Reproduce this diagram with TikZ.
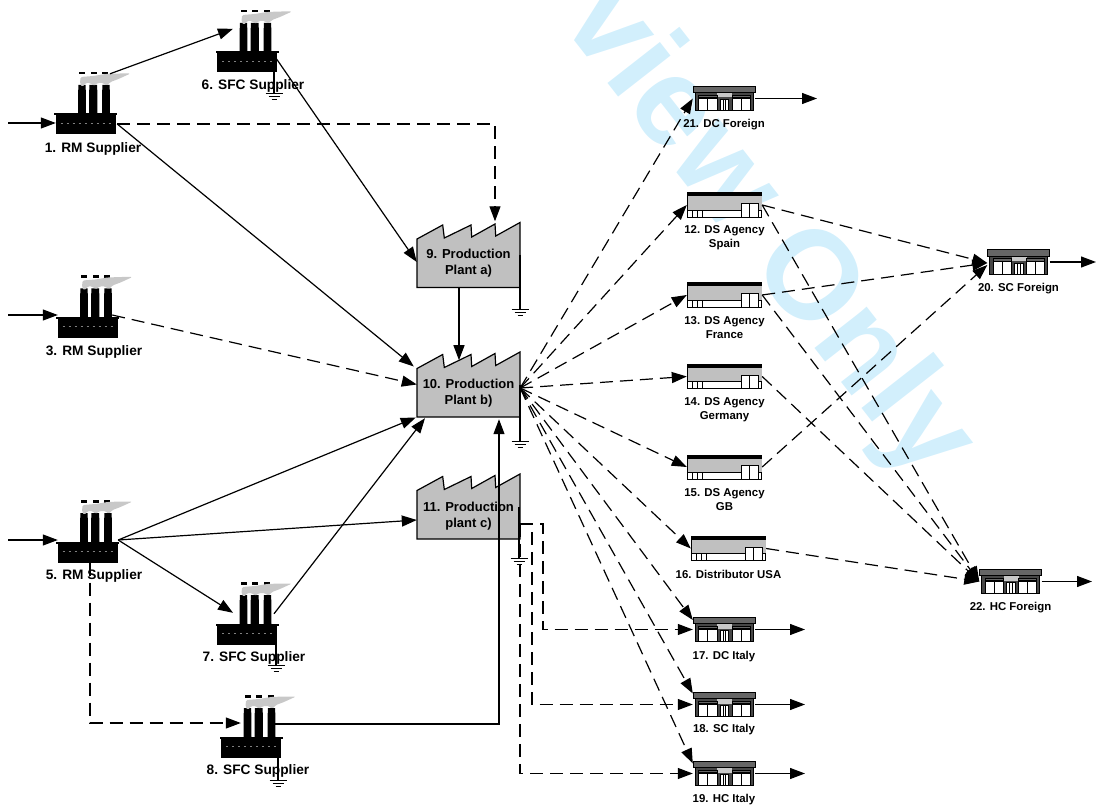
\documentclass[tikz,border=0pt]{standalone}
\usepackage{fontspec}
\setmainfont{Liberation Sans}
\usetikzlibrary{arrows.meta}
\definecolor{smoke}{HTML}{C8C8C8}
\definecolor{plantgray}{HTML}{C0C0C0}
\definecolor{roofgray}{HTML}{666666}
\definecolor{markblue}{HTML}{D2EFFC}
\tikzset{
  >={Stealth[length=15pt,width=11pt,inset=0pt]},
  wire/.style={line width=1.2pt},
  flow/.style={wire,->},
  dflow/.style={flow,dash pattern=on 13pt off 7pt},
  factorybox/.style={minimum width=63pt,minimum height=21pt,inner sep=0pt},
  plantbox/.style={minimum width=103pt,minimum height=65pt,inner sep=0pt},
  shopbox/.style={minimum width=62pt,minimum height=25pt,inner sep=0pt},
  agencybox/.style={minimum width=75pt,minimum height=25pt,inner sep=0pt},
  biglab/.style={font=\fontsize{13.7}{15}\selectfont\bfseries,inner sep=0pt,yshift=-1.5pt},
  midlab/.style={font=\fontsize{13}{16}\selectfont\bfseries,inner sep=0pt,align=center,yshift=-1.5pt},
  smalllab/.style={font=\fontsize{11.4}{14}\selectfont\bfseries,inner sep=0pt,align=center,yshift=-1.5pt},
  factorypic/.pic={
    \foreach \a/\b in {-7.5/0.5,3.5/12,16.5/24.5}
      \fill (\a+0.3,-39) -- (\b-0.3,-39) -- (\b,-10) -- (\a,-10) -- cycle;
    \foreach \a in {-3.5,8,19.5} \fill (\a-3,-52) rectangle (\a+3,-49.5);
    \fill[smoke,rounded corners=1.5pt] (-5.5,-40) -- (-5,-47) -- (8,-48) -- (20,-50) -- (33,-50.5) -- (45,-50.5)
      -- (33,-45) -- (25,-42) -- (21,-38) -- (18,-41) -- (12,-41) -- (8,-38) -- (5,-41) -- (0,-41) -- (-3,-37) -- cycle;
    \fill (-31.5,-10.5) rectangle (31.5,-8.5);
    \fill (-30,-8.5) rectangle (30,10.5);
    \draw[gray,line width=.3pt,dash pattern=on 2pt off 4pt] (-25,-1) -- (27,-1);
  },
  plantpic/.pic={
    \draw[wire,fill=plantgray] (-51.5,32.5) -- (-51.5,-16) -- (-25.8,-30) -- (-24.2,-17) -- (2.5,-30) -- (3.2,-18)
      -- (26.5,-31) -- (27.2,-19) -- (51.5,-32.5) -- (51.5,32.5) -- cycle;
  },
  shoppic/.pic={
    \draw[line width=1pt,fill=roofgray!70!black] (-29,-6) rectangle (29,12.3);
    \fill[smoke] (-7,-6) rectangle (8,-1);
    \foreach \a/\b in {-25.5/-7,8/26} {
      \draw[line width=.8pt,fill=white] (\a,-.5) rectangle (\b,12);
      \draw[line width=.8pt] ({(\a+\b)/2},-.5) -- ({(\a+\b)/2},12);
      \draw[line width=.8pt,fill=roofgray] (\a,-3.5) rectangle (\b,-.8);
    }
    \draw[line width=.8pt,fill=white] (-4,1) rectangle (4.5,12);
    \draw[line width=.6pt] (-1.2,1) -- (-1.2,12) (1.6,1) -- (1.6,12);
    \draw[line width=.9pt,fill=roofgray] (-31,-12.5) rectangle (31,-6);
  },
  agencypic/.pic={
    \draw[line width=1pt,fill=white] (-37,-12) rectangle (37,12.2);
    \fill[plantgray] (-37,-8.5) rectangle (37,5.2);
    \draw[line width=.9pt] (-37,5.2) -- (37,5.2);
    \fill (-37.5,-12.5) rectangle (37.5,-8.5);
    \draw[line width=.8pt,fill=white] (17,-1.5) rectangle (33.5,12.2);
    \draw[line width=.8pt] (25,-1.5) -- (25,12.2);
    \draw[line width=.8pt] (-32,5.2) -- (-32,12.2) (-27,5.2) -- (-27,12.2) (-22,5.2) -- (-22,12.2);
  },
  earthpic/.pic={
    \draw[line width=1pt] (-8.5,0) -- (8.5,0) (-5.5,3) -- (5.5,3) (-2.5,6) -- (2.5,6);
  }
}
\begin{document}
\begin{tikzpicture}[x=1pt,y=-1pt]
  \useasboundingbox (0,0) rectangle (1096,805);
  \node[anchor=base west,rotate=-52,text=markblue,inner sep=0pt,font=\fontsize{126}{126}\selectfont\bfseries] (mark) at (559,21) {view Only};

  % suppliers
  \foreach \n/\x/\y/\lx/\ly/\txt in {1/85.5/124/93/147/1. RM Supplier,3/87.5/327.5/94/350/3. RM Supplier,5/87.5/552/94/574/5. RM Supplier,
      6/247/62/253/84/6. SFC Supplier,7/247/634/254/656/7. SFC Supplier,8/251/747/258/769/8. SFC Supplier} {
    \node[factorybox] (f\n) at (\x,\y) {};
    \pic at (f\n) {factorypic};
    \node[biglab] (lf\n) at (\lx,\ly) {\txt};
  }
  % plants
  \foreach \n/\y/\ly/\txt in {9/255/262/9. Production\\Plant a),10/384.5/391.5/10. Production\\Plant b),11/506.5/514.5/11. Production\\plant c)} {
    \pic at (468.5,\y) {plantpic};
    \node[plantbox] (p\n) at (468.5,\y) {};
    \node[midlab] (lp\n) at (468.5,\ly) {\txt};
  }
  % agencies
  \foreach \n/\x/\y/\ly/\txt in {12/724.5/205/236/12. DS Agency\\Spain,13/724.5/295/326/13. DS Agency\\France,14/724.5/376.5/408/14. DS Agency\\Germany,
      15/724.5/467/498/15. DS Agency\\GB,16/728.5/548.5/573/16. Distributor USA} {
    \node[agencybox] (a\n) at (\x,\y) {};
    \pic at (a\n) {agencypic};
    \node[smalllab] (la\n) at (\x,\ly) {\txt};
  }
  % shops
  \foreach \n/\x/\y/\ly/\txt in {17/724/629.5/655/17. DC Italy,18/724/704.5/728/18. SC Italy,19/724/773.5/798/19. HC Italy,
      20/1018.5/262/287/20. SC Foreign,21/724/98.5/123/21. DC Foreign,22/1010.5/581.5/606/22. HC Foreign} {
    \node[shopbox] (s\n) at (\x,\y) {};
    \pic at (s\n) {shoppic};
    \node[smalllab] (ls\n) at (\x,\ly) {\txt};
  }
  % grounds
  \foreach \n/\x/\y/\from in {6/274/94/f6,7/276/665/f7,8/278/780/f8,9/520/310/p9,10/520/441/p10,11/519/558/p11} {
    \coordinate (g\n) at (\x,\y);
    \draw[wire] (g\n |- \from.east) -- (g\n);
    \pic at (g\n) {earthpic};
  }

  % raw material in, finished goods out
  \foreach \n/\y in {1/123,3/315,5/540} {
    \coordinate (in\n) at (8,\y);
    \draw[flow] (in\n) -- ([xshift=2pt]in\n -| f\n.west);
  }
  \foreach \n/\x in {17/805,18/805,19/805,20/1096,21/817,22/1092} {
    \coordinate (out\n) at (\x,0);
    \draw[flow] (s\n.east) -- (out\n |- s\n.east);
  }

  \draw[flow] ([shift={(24.5,-39.5)}]f1.north) -- ([shift={(-14,-22.5)}]f6.north);
  \draw[flow] (f1.east) -- ([shift={(-3,-18)}]p10.west);
  \draw[dflow] (f1.east) -| ([shift={(26.5,-1)}]p9.north);
  \draw[flow] ([shift={(-3.5,-5)}]f6.east) -- ([shift={(0,7)}]p9.west);
  \draw[dflow] ([shift={(-7,-12.5)}]f3.east) -- (p10.west);
  \coordinate (f5e) at ([shift={(-1,-12)}]f5.east);
  \draw[flow] (f5e) -- ([shift={(-1,33)}]p10.west);
  \draw[flow] (f5e) -- ([shift={(0,13.5)}]p11.west);
  \draw[flow] (f5e) -- ([shift={(-14,-10.5)}]f7.north);
  \draw[flow] ([shift={(27,-9.5)}]f7.north) -- ([shift={(-43.5,1)}]p10.south);
  \draw[dflow] ([xshift=2.5pt]f5.south) |- ([shift={(21.5,-24)}]f8.west);
  \draw[flow] ([shift={(-8.5,-23)}]f8.east) -| ([shift={(30.5,2)}]p10.south);
  \draw[flow] ([xshift=-9.5pt]p9.south) -- ([shift={(-9.5,-57)}]p10.south);

  % plant b) to the market
  \coordinate (hub) at ([shift={(0,3.5)}]p10.east);
  \foreach \t in {s21,a12,a13,a14,a15,a16} \draw[dflow] (hub) -- (\t.west);
  \foreach \t/\d in {s17/-9.5,s18/-11,s19/-10} \draw[dflow] (hub) -- ([shift={(0,\d)}]\t.west);
  % plant c) to the italian warehouses
  \coordinate (hubc) at ([shift={(0,17.5)}]p11.east);
  \foreach \n/\x in {17/543,18/532,19/520} {
    \coordinate (r\n) at (\x,0);
    \draw[dflow] (hubc) -| (r\n |- s\n.west) -- (s\n.west);
  }
  % agencies to the foreign warehouses
  \draw[dflow] (a12.east) -- ([shift={(0,1)}]s20.west);
  \draw[dflow] (a13.east) -- ([shift={(0,1)}]s20.west);
  \draw[dflow] (a15.east) -- ([shift={(0,3)}]s20.west);
  \foreach \t in {a12,a13,a14,a16} \draw[dflow] (\t.east) -- (s22.west);
\end{tikzpicture}
\end{document}
